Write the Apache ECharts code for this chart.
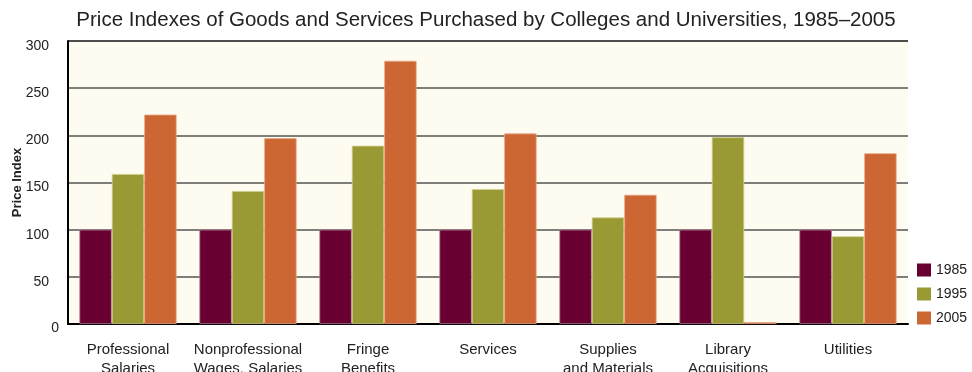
<!DOCTYPE html>
<html>
<head>
<meta charset="utf-8">
<script src="https://cdn.jsdelivr.net/npm/echarts@6/dist/echarts.min.js"></script>
<style>html,body{margin:0;padding:0;background:#fff}#c{width:972px;height:372px}</style>
</head>
<body>
<div id="c"></div>
<script>
const categories = ['Professional\nSalaries','Nonprofessional\nWages, Salaries','Fringe\nBenefits','Services','Supplies\nand Materials','Library\nAcquisitions','Utilities'];
const seriesNames = ['1985','1995','2005'];
const values1985 = [100,100,100,100,100,100,100];
const values1995 = [159,141,189,143,113,198,93];
const values2005 = [222,197,279,202,137,2,181];
const yTicks = [0,50,100,150,200,250,300];
const colors = ['#680032','#9A9A35','#CC6633'];
const borders = ['#B07890','#CFCF90','#E8A888'];

const chart = echarts.init(document.getElementById('c'));
const data = [values1985, values1995, values2005];
const yBase = {type:'value', min:0, max:300, interval:50, axisTick:{show:false}};
chart.setOption({
  animation:false,
  title:{
    text:'Price Indexes of Goods and Services Purchased by Colleges and Universities, 1985\u20132005',
    left:481, textAlign:'center', top:5,
    textStyle:{fontFamily:'Liberation Sans, Arial',fontSize:20.5,fontWeight:'normal',color:'#222'}
  },
  legend:{
    orient:'vertical', left:917, top:263, padding:0, itemWidth:14, itemHeight:13, itemGap:10,
    icon:'rect', data:seriesNames, itemStyle:{borderWidth:0},
    textStyle:{fontFamily:'Liberation Sans, Arial',fontSize:14,color:'#222'}
  },
  grid:{left:68,right:64,top:41,bottom:48,show:true,backgroundColor:'#FEFCF0',borderWidth:0,
    containLabel:false, outerBoundsMode:'none'},
  xAxis:{
    type:'category', data:categories,
    axisLine:{lineStyle:{color:'#000',width:2}},
    axisTick:{inside:true,length:5,lineStyle:{color:'#000',width:2}},
    axisLabel:{fontFamily:'Liberation Sans, Arial',fontSize:15,color:'#222',margin:16,lineHeight:19,interval:0}
  },
  yAxis:[
    Object.assign({}, yBase, {
      name:'Price Index', nameLocation:'middle', nameRotate:90, nameGap:44, nameMoveOverlap:false,
      nameTextStyle:{fontFamily:'Liberation Sans, Arial',fontSize:13,fontWeight:'bold',color:'#222'},
      axisLine:{show:true,lineStyle:{color:'#000',width:2}},
      axisLabel:{fontFamily:'Liberation Sans, Arial',fontSize:14,color:'#222',margin:19,verticalAlign:'top',padding:[-2,0,0,0],
        formatter:v=>(v!==0 && yTicks.includes(v))?String(v):''},
      splitLine:{lineStyle:{color:['#555','#555','#555','#555','#555','#555','#111'],width:1.5}}
    }),
    Object.assign({}, yBase, {
      position:'left', offset:0,
      axisLine:{show:false},
      splitLine:{show:false},
      axisLabel:{fontFamily:'Liberation Sans, Arial',fontSize:14,color:'#222',margin:9,verticalAlign:'top',padding:[-3,0,0,0],
        formatter:v=>v===0?String(v):''}
    })
  ],
  series: seriesNames.map((n,i)=>({
    name:n, type:'bar', data:data[i], barGap:'0%', barCategoryGap:'19%',
    itemStyle:{color:colors[i],borderColor:borders[i],borderWidth:0.8}
  }))
});
</script>
</body>
</html>
